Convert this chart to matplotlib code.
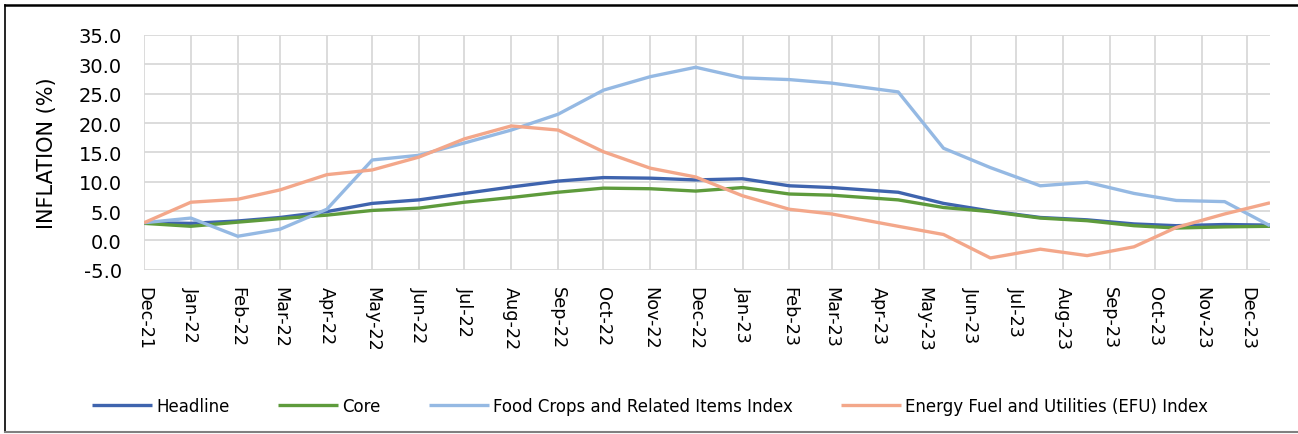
import numpy as np
import pandas as pd
import matplotlib
matplotlib.use('Agg')
import matplotlib.pyplot as plt
import matplotlib.dates as mdates
from matplotlib.lines import Line2D

# data dates (first months sit on the 1st, later ones mid-month)
dates = ['2021-12-01', '2022-01-01', '2022-02-01', '2022-03-01', '2022-04-01',
         '2022-05-01', '2022-06-01', '2022-07-01', '2022-08-01', '2022-09-01',
         '2022-10-01', '2022-11-01', '2022-12-01', '2023-01-01', '2023-02-01',
         '2023-03-01', '2023-04-14', '2023-05-14', '2023-06-14', '2023-07-17',
         '2023-08-17', '2023-09-17', '2023-10-15', '2023-11-16', '2023-12-16']

headline = [3.0, 2.9, 3.3, 3.9, 4.9, 6.3, 6.9, 8.0, 9.1, 10.1, 10.7, 10.6, 10.3,
            10.5, 9.3, 9.0, 8.2, 6.3, 5.0, 3.9, 3.5, 2.8, 2.5, 2.7, 2.6]
core = [2.9, 2.4, 3.1, 3.7, 4.3, 5.1, 5.5, 6.5, 7.3, 8.2, 8.9, 8.8, 8.4,
        9.0, 7.9, 7.7, 6.9, 5.6, 4.9, 3.8, 3.35, 2.5, 2.1, 2.3, 2.4]
food = [3.0, 3.8, 0.7, 1.9, 5.3, 13.7, 14.5, 16.6, 18.8, 21.5, 25.6, 27.9, 29.5,
        27.7, 27.4, 26.8, 25.3, 15.7, 12.4, 9.3, 9.9, 8.0, 6.8, 6.6, 2.5]
efu = [3.0, 6.5, 7.0, 8.6, 11.2, 12.0, 14.2, 17.3, 19.5, 18.8, 15.1, 12.3, 10.8,
       7.6, 5.3, 4.5, 2.4, 1.0, -3.0, -1.5, -2.6, -1.1, 2.2, 4.5, 6.4]

series = [('Headline', headline, '#3f64ae'),
          ('Core', core, '#5e9b3c'),
          ('Food Crops and Related Items Index', food, '#95b9e3'),
          ('Energy Fuel and Utilities (EFU) Index', efu, '#f3a78a')]

x = pd.to_datetime(dates)

fig = plt.figure(figsize=(12.98, 4.35), dpi=100)
ax = fig.add_axes([144 / 1298, 1 - 270.7 / 435, (1270 - 144) / 1298, (270.7 - 36) / 435])

for name, vals, col in series:
    ax.plot(x, vals, color=col, lw=2.4, label=name, solid_capstyle='butt')

ax.set_ylim(-5, 35)
ax.set_yticks(np.arange(-5, 36, 5))
ax.yaxis.set_major_formatter(matplotlib.ticker.FormatStrFormatter('%.1f'))
ax.set_xlim(pd.Timestamp('2021-12-01'), pd.Timestamp('2023-12-16'))
ax.xaxis.set_major_locator(mdates.MonthLocator())
ax.xaxis.set_major_formatter(mdates.DateFormatter('%b-%y'))

ax.grid(True, color='#d9d9d9', lw=1.3)
ax.set_axisbelow(True)
for s in ax.spines.values():
    s.set_visible(False)
ax.tick_params(axis='both', length=0)
ax.tick_params(axis='y', labelsize=14, pad=16)
ax.tick_params(axis='x', labelsize=12.7, pad=12)
for lbl in ax.get_xticklabels():
    lbl.set_rotation(270)
    lbl.set_ha('center')
    lbl.set_va('top')

ax.set_ylabel('INFLATION (%)', fontsize=15)
ax.yaxis.set_label_coords((57 - 144) / 1126, 0.5)

fig.legend(loc='center', bbox_to_anchor=(650 / 1298, 1 - 407 / 435), ncol=4,
           frameon=False, fontsize=12, handlelength=3.6, columnspacing=2.9,
           handletextpad=0.25)

# chart border
fig.add_artist(Line2D([5 / 1298, 1], [1 - 6 / 435, 1 - 6 / 435], color='black', lw=1.8, transform=fig.transFigure))
fig.add_artist(Line2D([5 / 1298, 5 / 1298], [1 - 6 / 435, 1 - 433 / 435], color='black', lw=1.2, transform=fig.transFigure))
fig.add_artist(Line2D([5 / 1298, 1], [1 - 433 / 435, 1 - 433 / 435], color='#808080', lw=1.5, transform=fig.transFigure))

fig.savefig('out.png', dpi=100)
